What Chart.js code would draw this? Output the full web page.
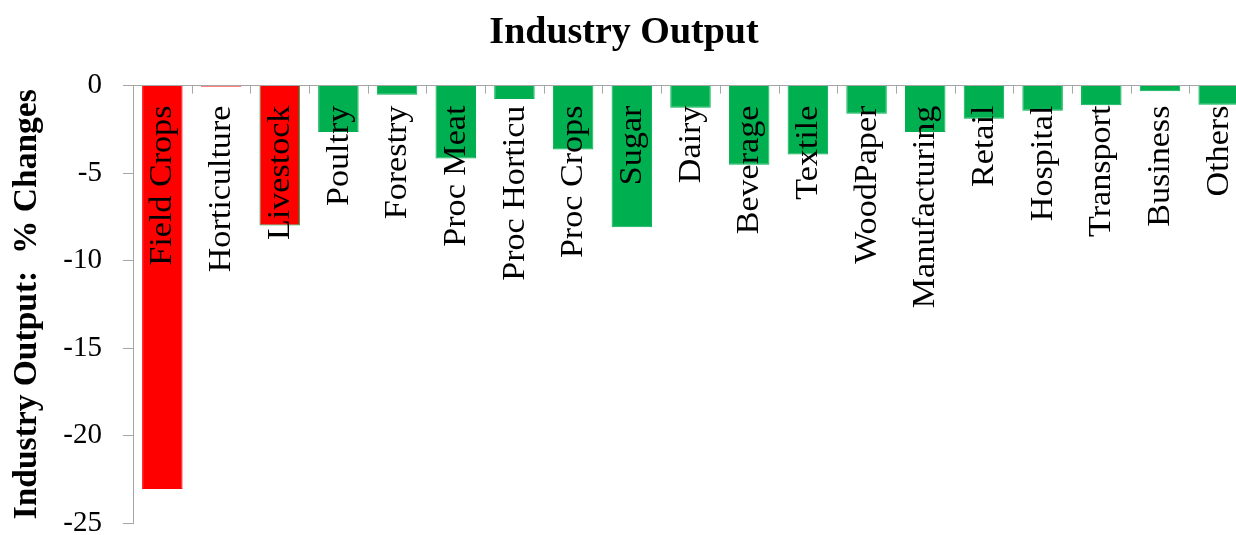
<!DOCTYPE html>
<html>
<head>
<meta charset="utf-8">
<script src="https://cdn.jsdelivr.net/npm/chart.js@4"></script>
<style>
  html, body { margin: 0; padding: 0; background: #fff; overflow: hidden; }
  #wrap { width: 1250px; height: 535px; }
</style>
</head>
<body>
<div id="wrap"><canvas id="output-chart"></canvas></div>
<script>
const industries = ['Field Crops', 'Horticulture', 'Livestock', 'Poultry', 'Forestry', 'Proc Meat',
  'Proc Horticu', 'Proc Crops', 'Sugar', 'Dairy', 'Beverage', 'Textile', 'WoodPaper',
  'Manufacturing', 'Retail', 'Hospital', 'Transport', 'Business', 'Others'];
const changes = [-23.05, -0.06, -8.0, -2.65, -0.53, -4.17, -0.77, -3.65, -8.1, -1.27,
  -4.53, -3.94, -1.61, -2.65, -1.9, -1.44, -1.12, -0.33, -1.1];
const barColors = ['#ff0000', '#ff0000', '#ff0000', '#00b050', '#00b050', '#00b050', '#00b050',
  '#00b050', '#00b050', '#00b050', '#00b050', '#00b050', '#00b050', '#00b050', '#00b050',
  '#00b050', '#00b050', '#00b050', '#00b050'];
const borderColors = ['#ff0000', '#ff0000', '#00b050', '#00b050', '#00b050', '#00b050', '#00b050',
  '#00b050', '#00b050', '#00b050', '#00b050', '#00b050', '#00b050', '#00b050', '#00b050',
  '#00b050', '#00b050', '#00b050', '#00b050'];
const yTicks = [0, -5, -10, -15, -20, -25];

const serif = "'Liberation Serif', 'Times New Roman', serif";
const axisGray = '#a6a6a6';

// category labels inside the plot + small tick marks under the zero line
const insideLabels = {
  id: 'insideLabels',
  afterDatasetsDraw(chart) {
    const ctx = chart.ctx;
    const x = chart.scales.x;
    const y = chart.scales.y;
    const y0 = y.getPixelForValue(0);
    ctx.save();
    ctx.strokeStyle = axisGray;
    ctx.lineWidth = 1;
    for (let i = 1; i < industries.length; i++) {
      const bx = Math.round((x.getPixelForValue(i - 1) + x.getPixelForValue(i)) / 2) + 0.5;
      ctx.beginPath();
      ctx.moveTo(bx, y0);
      ctx.lineTo(bx, y0 + 8);
      ctx.stroke();
    }
    ctx.fillStyle = '#000';
    ctx.font = '31px ' + serif;
    ctx.textAlign = 'right';
    ctx.textBaseline = 'middle';
    industries.forEach((name, i) => {
      ctx.save();
      ctx.translate(x.getPixelForValue(i) + 1, y0 + 20);
      ctx.rotate(-Math.PI / 2);
      ctx.scale(1.1, 1);
      ctx.fillText(name, 0, 0);
      ctx.restore();
    });
    ctx.restore();
  }
};

new Chart(document.getElementById('output-chart'), {
  type: 'bar',
  data: {
    labels: industries,
    datasets: [{
      data: changes,
      backgroundColor: barColors,
      borderColor: borderColors,
      borderWidth: 1,
      barPercentage: 0.69,
      categoryPercentage: 1
    }]
  },
  options: {
    responsive: true,
    maintainAspectRatio: false,
    animation: false,
    layout: { padding: { left: 0, right: 2, top: 0, bottom: 12 } },
    plugins: {
      legend: { display: false },
      tooltip: { enabled: false },
      title: {
        display: true,
        text: 'Industry Output',
        color: '#000',
        font: { family: serif, size: 38, weight: 'bold' },
        padding: { top: 10, bottom: 30 }
      }
    },
    scales: {
      x: {
        display: false,
        offset: true
      },
      y: {
        min: -25,
        max: 0,
        afterFit(scale) {
          scale.width = 133;
          scale.paddingTop = 0;
          scale.paddingBottom = 0;
        },
        afterBuildTicks(scale) { scale.ticks = yTicks.map(v => ({ value: v })); },
        border: { display: true, color: axisGray, width: 1 },
        grid: {
          drawOnChartArea: true,
          color: ctx => (ctx.tick && ctx.tick.value === 0 ? axisGray : 'rgba(0,0,0,0)'),
          tickColor: axisGray,
          tickLength: 10
        },
        ticks: {
          color: '#000',
          padding: 21,
          font: { family: serif, size: 29, lineHeight: 1 }
        },
        title: {
          display: true,
          text: 'Industry Output:  % Changes',
          color: '#000',
          font: { family: serif, size: 33.5, weight: 'bold', lineHeight: 1.2 },
          padding: { top: 7, bottom: 0 }
        }
      }
    }
  },
  plugins: [insideLabels]
});
</script>
</body>
</html>
